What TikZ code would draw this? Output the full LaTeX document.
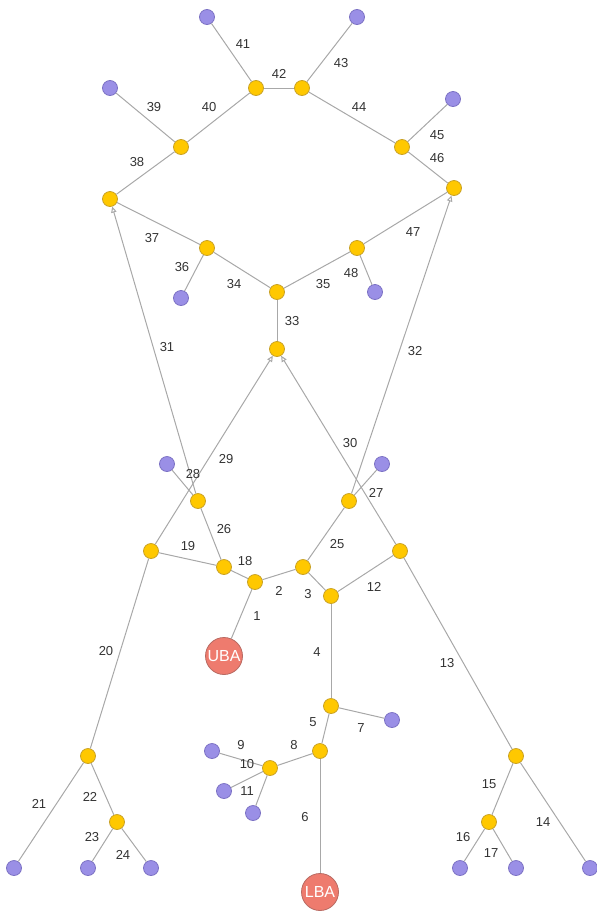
\documentclass[tikz,border=0pt]{standalone}
\usepackage{fontspec}
\setmainfont{Liberation Sans}
\usetikzlibrary{arrows.meta}
\definecolor{ylw}{HTML}{FFC800}
\definecolor{ylwb}{HTML}{C9A227}
\definecolor{ppl}{HTML}{9A8FE6}
\definecolor{pplb}{HTML}{7C72C4}
\definecolor{rd}{HTML}{EE7B6E}
\definecolor{rdb}{HTML}{B86A62}
\definecolor{edg}{HTML}{A8A8A8}
\definecolor{txt}{HTML}{333333}
\tikzset{
  yn/.style={circle,fill=ylw,draw=ylwb,line width=0.8pt,minimum size=15pt,inner sep=0pt},
  pn/.style={circle,fill=ppl,draw=pplb,line width=0.8pt,minimum size=15pt,inner sep=0pt},
  rn/.style={circle,fill=rd,draw=rdb,line width=0.8pt,minimum size=37pt,inner sep=0pt,text=white,font=\fontsize{16}{18}\selectfont},
  lbl/.style={text=txt,font=\fontsize{13}{15}\selectfont,inner sep=0pt},
  ed/.style={draw=edg,line width=1pt},
  aed/.style={draw=edg,line width=1pt,-{Triangle[open,length=6pt,width=5.5pt]}}
}
\begin{document}
\begin{tikzpicture}[x=1pt,y=-1pt]
\useasboundingbox (0,0) rectangle (597,911);
% nodes
\node[rn] (U) at (224,656) {UBA};
\node[rn] (L) at (320,892) {LBA};
\foreach \n/\x/\y in {y2/255/582, y25/303/567, y3/331/596, y13/400/551, y5/331/706, y8/320/751, y10/270/768,
  y18/224/567, y19/151/551, y21/88/756, y23/117/822, y14/516/756, y16/489/822, y28/198/501, y27/349/501,
  y33/277/349, y34/277/292, y37/207/248, y47/357/248, y38/110/199, y46/454/188, y40/181/147,
  y42a/256/88, y42b/302/88, y44/402/147}
  \node[yn] (\n) at (\x,\y) {};
\foreach \n/\x/\y in {p7/392/720, p9/212/751, p10/224/791, p11/253/813, p21/14/868, p23/88/868, p24/151/868,
  p16/460/868, p17/516/868, p14/590/868, p28/167/464, p27/382/464, p36/181/298, p48/375/292,
  p39/110/88, p41/207/17, p43/357/17, p45/453/99}
  \node[pn] (\n) at (\x,\y) {};
% edges
\foreach \a/\b in {U/y2, y2/y25, y25/y3, y3/y5, y5/y8, y8/L, y5/p7, y8/y10, y10/p9, y10/p10, y10/p11,
  y3/y13, y13/y14, y14/p14, y14/y16, y16/p16, y16/p17, y18/y2, y19/y18, y19/y21, y21/p21, y21/y23,
  y23/p23, y23/p24, y25/y27, y18/y28, y27/p27, y28/p28, y33/y34, y34/y37, y34/y47, y37/p36, y37/y38,
  y38/y40, y40/p39, y40/y42a, y42a/p41, y42a/y42b, y42b/p43, y42b/y44, y44/p45, y44/y46, y47/y46, y47/p48}
  \path[ed] (\a) -- (\b);
\foreach \a/\b in {y19/y33, y13/y33, y28/y38, y27/y46}
  \path[aed] (\a) -- (\b);
% labels
\foreach \n/\x/\y in {1/257/616, 2/279/591, 3/308/594, 4/317/652, 5/313/722, 6/305/817, 7/361/728, 8/294/745,
  9/241/745, 10/247/764, 11/247/791, 12/374/587, 13/447/663, 14/543/822, 15/489/784, 16/463/837,
  17/491/853, 18/245/561, 19/188/546, 20/106/651, 21/39/804, 22/90/797, 23/92/837, 24/123/855,
  25/337/544, 26/224/529, 27/376/493, 28/193/474, 29/226/459, 30/350/443, 31/167/347, 32/415/351,
  33/292/321, 34/234/284, 35/323/284, 36/182/267, 37/152/238, 38/137/162, 39/154/107, 40/209/107,
  41/243/44, 42/279/74, 43/341/63, 44/359/107, 45/437/135, 46/437/158, 47/413/232, 48/351/273}
  \node[lbl] (t\n) at (\x,\y) {\n};
\end{tikzpicture}
\end{document}
